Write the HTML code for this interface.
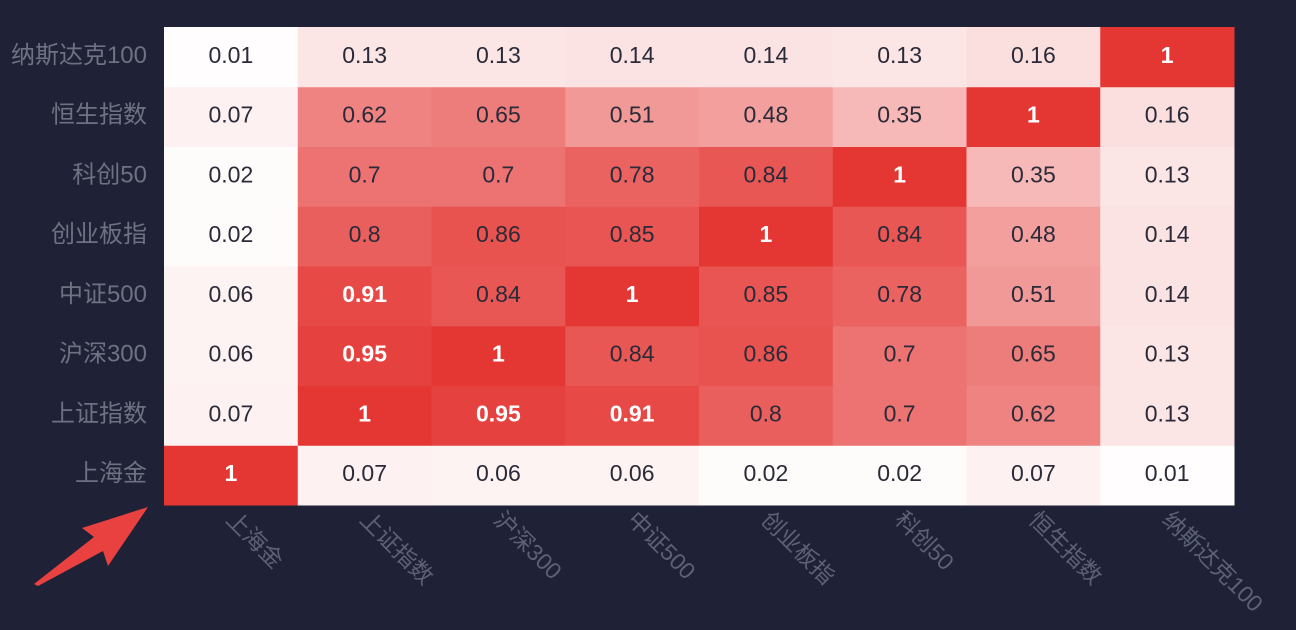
<!DOCTYPE html>
<html><head><meta charset="utf-8"><style>
html,body{margin:0;padding:0;background:#1f2236;}
svg{display:block;}
</style></head><body>
<svg id="chart" width="1296" height="630" xmlns="http://www.w3.org/2000/svg">
<rect width="1296" height="630" fill="#1f2236"/>
<g id="cells"></g>
<g id="ylabels"></g>
<g id="xlabels"></g>
<polygon points="148,507 82,528 94,537 34,584 38,586 103,551 108,566" fill="#e8413f"/>
</svg>
<script>
const categories = ["上海金","上证指数","沪深300","中证500","创业板指","科创50","恒生指数","纳斯达克100"];
const rowShanghaiGold = [1,0.07,0.06,0.06,0.02,0.02,0.07,0.01];
const rowSSE = [0.07,1,0.95,0.91,0.8,0.7,0.62,0.13];
const rowCSI300 = [0.06,0.95,1,0.84,0.86,0.7,0.65,0.13];
const rowCSI500 = [0.06,0.91,0.84,1,0.85,0.78,0.51,0.14];
const rowChiNext = [0.02,0.8,0.86,0.85,1,0.84,0.48,0.14];
const rowSTAR50 = [0.02,0.7,0.7,0.78,0.84,1,0.35,0.13];
const rowHangSeng = [0.07,0.62,0.65,0.51,0.48,0.35,1,0.16];
const rowNasdaq = [0.01,0.13,0.13,0.14,0.14,0.13,0.16,1];
const matrix = [rowShanghaiGold,rowSSE,rowCSI300,rowCSI500,rowChiNext,rowSTAR50,rowHangSeng,rowNasdaq];

const NS="http://www.w3.org/2000/svg";
const x0=164,x1=1234,yTop=27,yBot=505;
const n=categories.length;
const cw=(x1-x0)/n, ch=(yBot-yTop)/n;
const xPos=i=>x0+i*cw;
const yPos=j=>yBot-(j+1)*ch;
function color(v){
  const r=Math.round(255-v*(255-228));
  const g=Math.round(255-v*(255-55));
  const b=Math.round(255-v*(255-52));
  return `rgb(${r},${g},${b})`;
}
const cells=document.getElementById('cells');
matrix.forEach((row,j)=>{
  row.forEach((v,i)=>{
    const r=document.createElementNS(NS,'rect');
    r.setAttribute('x',xPos(i));r.setAttribute('y',yPos(j));
    r.setAttribute('width',cw+0.5);r.setAttribute('height',ch+0.5);
    r.setAttribute('fill',color(v));
    
    
    cells.appendChild(r);
    const t=document.createElementNS(NS,'text');
    t.setAttribute('x',xPos(i)+cw/2);t.setAttribute('y',yPos(j)+ch/2+6);
    t.setAttribute('text-anchor','middle');
    t.setAttribute('font-family','"Liberation Sans", sans-serif');
    t.setAttribute('font-size','23');
    const strong=v>=0.9;
    t.setAttribute('fill',strong?'#ffffff':'#2a2a38');
    if(strong)t.setAttribute('font-weight','bold');
    t.textContent=String(v);
    
    
    cells.appendChild(t);
  });
});
const yl=document.getElementById('ylabels');
categories.forEach((c,j)=>{
  const t=document.createElementNS(NS,'text');
  t.setAttribute('x',147);t.setAttribute('y',yPos(j)+ch/2+6);
  t.setAttribute('text-anchor','end');
  t.setAttribute('font-family','"Liberation Sans", "Noto Sans CJK SC", sans-serif');
  t.setAttribute('font-size','24');t.setAttribute('fill','#6d7182');
  t.textContent=c;
  
  
  yl.appendChild(t);
});
const xl=document.getElementById('xlabels');
categories.forEach((c,i)=>{
  const t=document.createElementNS(NS,'text');
  const cx=xPos(i)+cw/2-6, cy=521;
  t.setAttribute('x',cx);t.setAttribute('y',cy);
  t.setAttribute('transform',`rotate(45 ${cx} ${cy})`);
  t.setAttribute('font-family','"Liberation Sans", "Noto Sans CJK SC", sans-serif');
  t.setAttribute('font-size','23');t.setAttribute('fill','#5d6174');
  t.textContent=c;
  
  
  xl.appendChild(t);
});
</script>
</body></html>
